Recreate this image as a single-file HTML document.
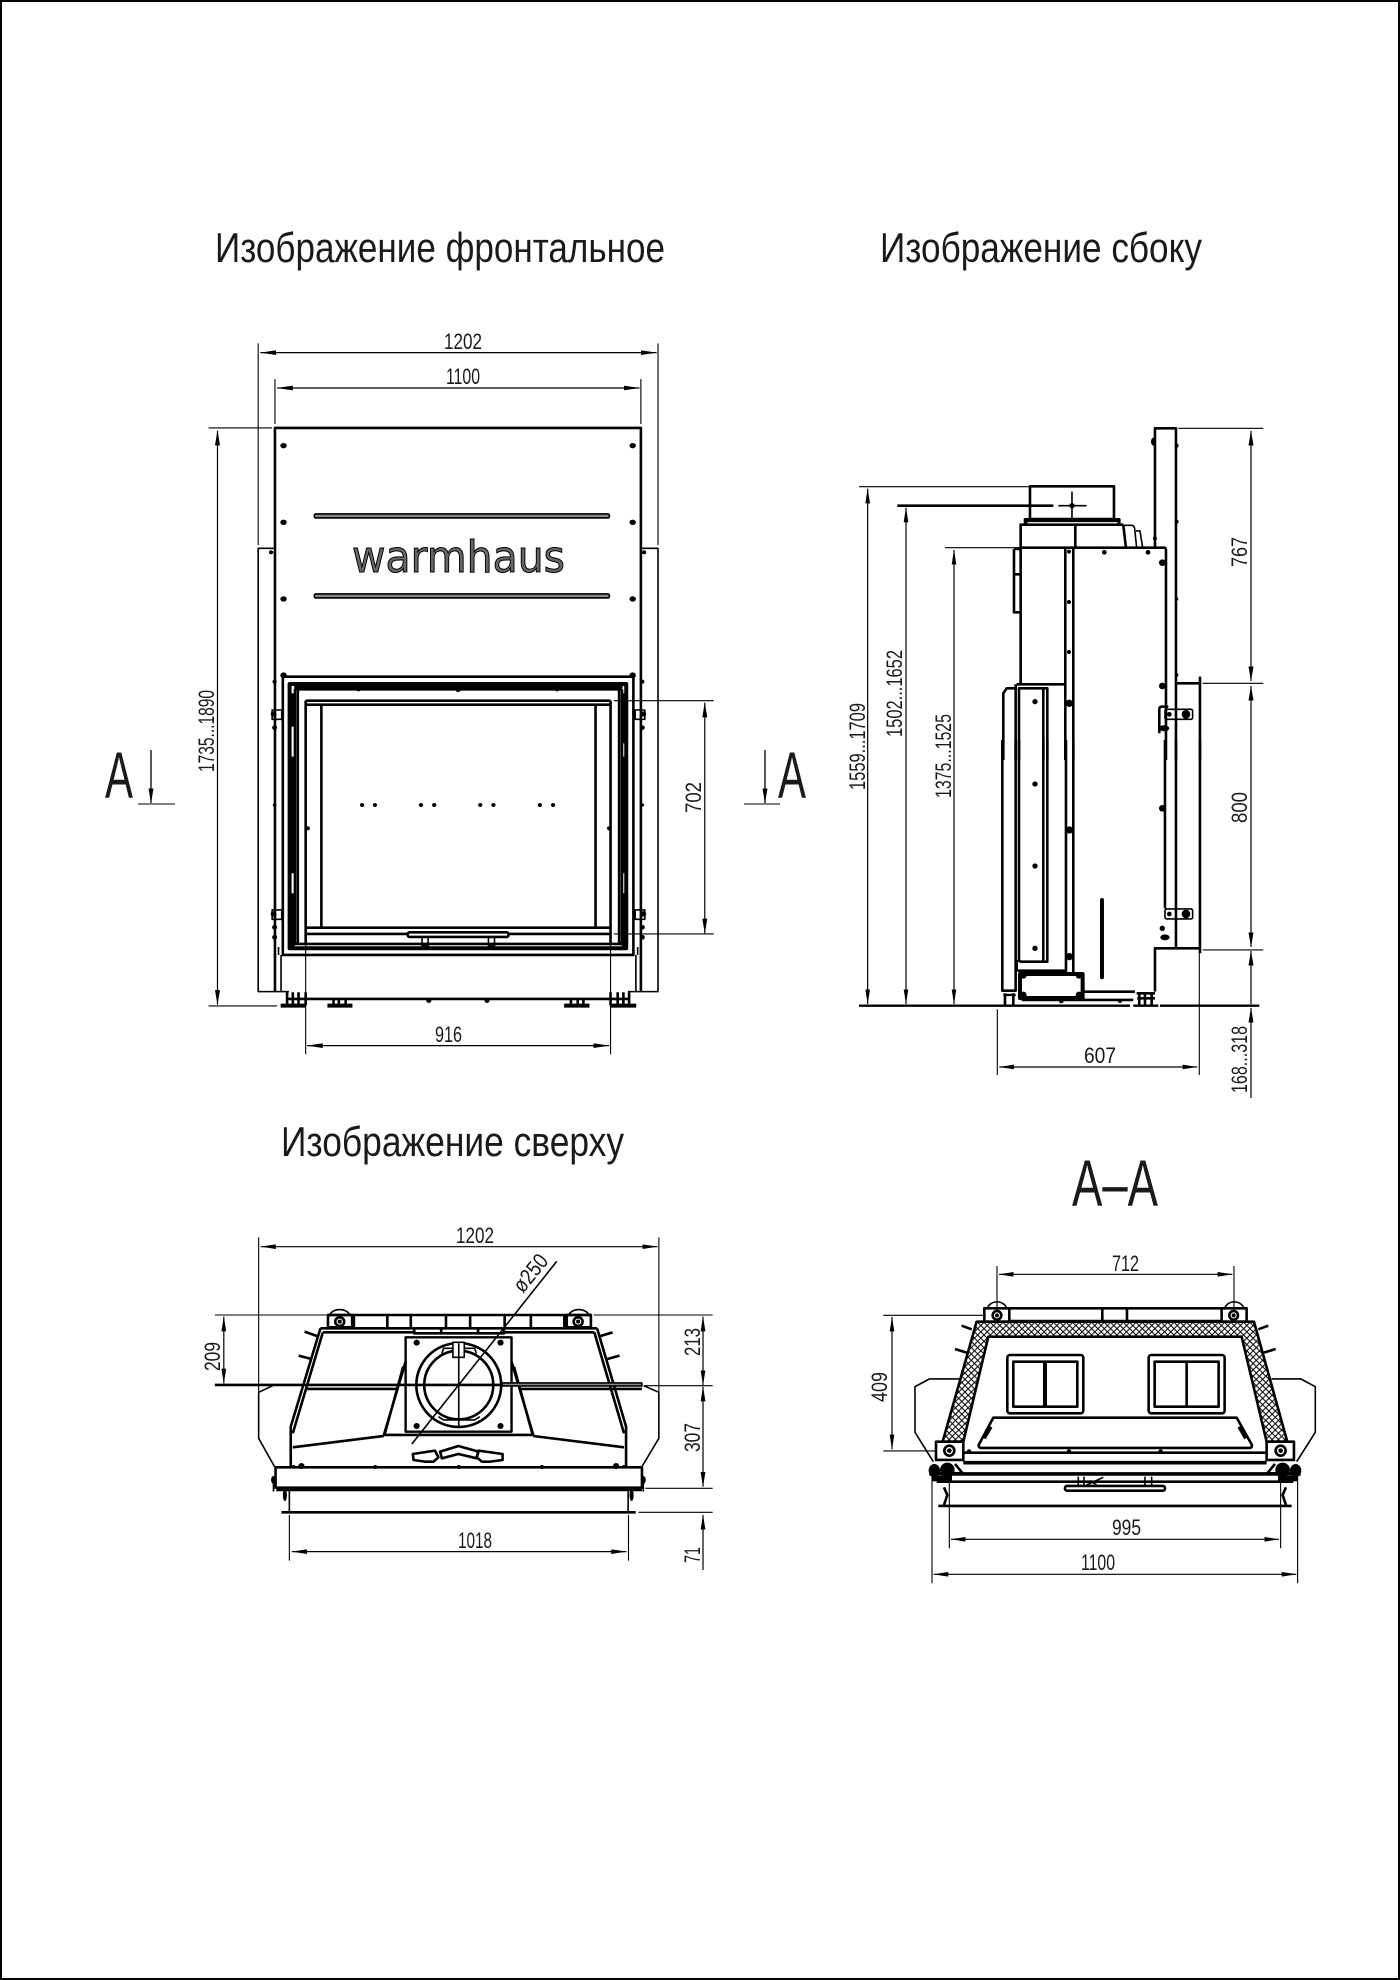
<!DOCTYPE html>
<html><head><meta charset="utf-8"><style>
html,body{margin:0;padding:0;background:#fff}
svg{display:block}
g.v *{vector-effect:non-scaling-stroke}
g.v{fill:none;stroke:#000;stroke-width:1.6;stroke-linejoin:round}
.t{stroke-width:2.6}.u{stroke-width:4}.n{stroke-width:1.1}
.d{stroke-width:1.2;marker-start:url(#a);marker-end:url(#a)}
.f{fill:#000;stroke:none}
text{font-family:"Liberation Sans","DejaVu Sans",sans-serif;fill:#1a1a1a;stroke:none}
.s{font-size:22px}.h{font-size:42px}
</style></head><body>
<svg width="1400" height="1980" viewBox="0 0 1400 1980" xmlns="http://www.w3.org/2000/svg">
<defs>
<marker id="a" markerUnits="userSpaceOnUse" viewBox="0 0 45 14" markerWidth="45" markerHeight="14" refX="44" refY="7" orient="auto-start-reverse"><path d="M0 0L45 7L0 14z" fill="#000"/></marker>
<marker id="b" markerUnits="userSpaceOnUse" viewBox="0 0 15 5" markerWidth="15" markerHeight="5" refX="14.6" refY="2.5" orient="auto-start-reverse"><path d="M0 0L15 2.5L0 5z" fill="#000"/></marker>
<pattern id="h" patternUnits="userSpaceOnUse" width="19" height="19"><path d="M0 0L19 19M19 0L0 19" stroke="#000" stroke-width="3" fill="none"/></pattern>
</defs>
<rect x="1" y="1" width="1398" height="1978" fill="none" stroke="#000" stroke-width="2"/>

<!-- FRONT upper -->
<g class="v" transform="translate(180,300) scale(.357,.3333)">
<path class="n" d="M219 130V735M1339 130V735M266 237V372M1291 237V372M80 384H258"/>
<path class="d" d="M225 158H1335"/><path class="d" d="M272 264H1287"/>
<path class="t" d="M266 1080V384H1291V1080"/>
<path d="M219 1080V745H262M1295 745H1339V1080"/>
<rect x="376" y="642" width="827" height="12" rx="5" fill="#888"/><rect x="376" y="882" width="827" height="12" rx="5" fill="#888"/>
<g class="f"><ellipse cx="290" cy="437" rx="9" ry="8"/><ellipse cx="1268" cy="437" rx="9" ry="8"/><ellipse cx="290" cy="667" rx="9" ry="8"/><ellipse cx="1268" cy="667" rx="9" ry="8"/><ellipse cx="290" cy="897" rx="9" ry="8"/><ellipse cx="1268" cy="897" rx="9" ry="8"/><circle cx="255" cy="757" r="6"/><circle cx="1300" cy="757" r="6"/></g>
</g>
<text x="352" y="572" font-size="44" textLength="213" lengthAdjust="spacingAndGlyphs" style="font-family:'DejaVu Sans','Liberation Sans',sans-serif;fill:#666;stroke:#000;stroke-width:1">warmhaus</text>

<!-- FRONT lower -->
<g class="v" transform="translate(180,660) scale(.357,.3333)">
<path class="t" d="M266 0V995M1291 0V995"/>
<path d="M219 0V995H305M1255 995H1339V0M283 885V995M1277 885V995M276 861V885M1282 861V885"/>
<path class="t" d="M352 1017H1206"/>
<rect class="t" x="288" y="50" width="982" height="835"/>
<rect class="u" x="307" y="72" width="943" height="793"/>
<path class="t" d="M320 88H1238M322 88V850M1238 88V850M330 92V850M1230 92V850"/>
<path class="u" d="M316 290V640M1243 290V640M316 100V200M1243 100V250M316 700V860M1243 700V860M320 80H1240"/>
<path class="n" d="M352 122V1183M1206 122V1183"/>
<path class="t" d="M352 122H1206M352 134H1206M352 122V852M1206 122V852M396 134V803M1164 134V803M352 803H1206M352 822H640M920 822H1206M320 852H1240"/>
<rect class="t" x="638" y="817" width="282" height="14" rx="5"/>
<path d="M678 831H695V858H678zM864 831H881V858H864z"/>
<rect x="258" y="150" width="27" height="28"/><rect x="1275" y="150" width="27" height="28"/><rect x="258" y="750" width="27" height="28"/><rect x="1275" y="750" width="27" height="28"/>
<g class="f">
<circle cx="290" cy="46" r="9"/><circle cx="1268" cy="46" r="9"/>
<circle cx="510" cy="435" r="6"/><circle cx="546" cy="435" r="6"/><circle cx="675" cy="435" r="6"/><circle cx="712" cy="435" r="6"/><circle cx="841" cy="435" r="6"/><circle cx="878" cy="435" r="6"/><circle cx="1008" cy="435" r="6"/><circle cx="1045" cy="435" r="6"/>
<circle cx="265" cy="65" r="6"/><circle cx="1295" cy="65" r="6"/><circle cx="262" cy="162" r="8"/><circle cx="1298" cy="162" r="8"/><circle cx="265" cy="203" r="7"/><circle cx="1295" cy="203" r="7"/><circle cx="265" cy="435" r="5"/><circle cx="1295" cy="435" r="5"/><circle cx="262" cy="762" r="8"/><circle cx="1298" cy="762" r="8"/><circle cx="265" cy="802" r="7"/><circle cx="1295" cy="802" r="7"/><circle cx="265" cy="832" r="7"/><circle cx="1295" cy="832" r="7"/>
<circle cx="358" cy="505" r="6"/><circle cx="1202" cy="505" r="6"/><circle cx="697" cy="1022" r="7"/><circle cx="860" cy="1022" r="7"/>
<circle cx="500" cy="88" r="6"/><circle cx="779" cy="88" r="8"/><circle cx="1056" cy="88" r="6"/>
</g>
<path class="t" d="M300 997V1036M316 997V1036M332 997V1036M352 997V1036M300 1017H352M1206 997V1036M1226 997V1036M1242 997V1036M1258 997V1036M1206 1017H1258M430 1020V1036M445 1020V1036M464 1020V1036M1095 1020V1036M1114 1020V1036M1130 1020V1036"/>
<path class="u" d="M282 1037H352M1206 1037H1278M413 1037H483M1076 1037H1147"/>
<path class="n" d="M80 1038H272M1215 122H1495M1215 822H1495"/>
<path class="d" d="M105 -688V1034"/><path class="d" d="M1470 128V820"/><path class="d" d="M356 1157H1202"/>
</g>

<!-- SIDE upper -->
<g class="v" transform="translate(840,400) scale(.3333)">
<path class="t" d="M945 443V85H1008V1080"/>
<path class="n" d="M1015 85H1270M1088 850H1270M57 260H570M315 443H540"/>
<path class="t" d="M172 317H640"/><path d="M655 317H740M696 275V357"/>
<rect class="t" x="570" y="259" width="252" height="98"/>
<path class="t" d="M555 372V358H838V372M542 853V374H850"/>
<path d="M560 372V364H835V372M850 376H875Q882 376 884 385L890 443M888 393H900L908 443"/>
<path class="t" d="M850 376L858 443M706 374V443M540 443H975Q978 445 978 452V1080"/>
<path class="t" d="M676 443V1080M700 443V1080M522 447H542M522 447V637H542M522 523H542"/>
<path class="t" d="M530 853H676M527 1080V853M537 1080V865H622V1080M610 865V1080M490 1080V880L500 865H527M1080 830V1080M1008 850H1080"/>
<path class="t" d="M985 920H965Q958 920 958 930V1000"/>
<rect x="975" y="928" width="83" height="30" rx="5"/>
<path class="d" d="M83 266V1812"/>
<path class="d" d="M198 323V1812"/>
<path class="d" d="M342 450V1812"/>
<g class="f">
<circle cx="696" cy="317" r="8"/><circle cx="687" cy="455" r="6"/><circle cx="793" cy="457" r="7"/><circle cx="924" cy="457" r="7"/><circle cx="687" cy="606" r="6"/><circle cx="687" cy="756" r="6"/><circle cx="688" cy="910" r="11"/><circle cx="967" cy="488" r="10"/><circle cx="967" cy="858" r="10"/><ellipse cx="940" cy="125" rx="7" ry="12"/><circle cx="1010" cy="137" r="6"/><circle cx="1010" cy="365" r="6"/><circle cx="945" cy="415" r="6"/><circle cx="1010" cy="597" r="5"/><circle cx="1010" cy="825" r="5"/>
<circle cx="585" cy="905" r="8"/><circle cx="988" cy="943" r="7"/><circle cx="1038" cy="943" r="13"/><ellipse cx="972" cy="985" rx="16" ry="9"/>
</g>
</g>

<!-- SIDE lower -->
<g class="v" transform="translate(840,740) scale(.3333)">
<path class="t" d="M487 0V752H527V0M537 0V660Q537 665 545 665H622V0M610 0V665M532 692H678M530 660V692M678 0V700M700 0V700M975 0V505M1008 0V625M945 755V625H1080M1080 0V640"/>
<rect class="u" x="540" y="702" width="188" height="72"/>
<path class="t" d="M728 755H885M545 780H880M495 760V795M520 760V795M890 760H945M898 760V795M915 760V795M935 760V795M892 775H945"/>
<path class="n" d="M1088 630H1270M472 808V1005M1078 640V1005"/>
<path class="u" d="M57 797H870M960 797H1258M472 797H545M880 797H955M490 765H527" style="stroke-width:2.4"/>
<path d="M786 480V712" style="stroke-width:4;stroke-linecap:round"/>
<rect x="975" y="507" width="83" height="30" rx="5"/>
<path class="d" d="M478 981H1072"/>
<g class="f">
<circle cx="585" cy="132" r="8"/><circle cx="585" cy="378" r="8"/><circle cx="585" cy="625" r="8"/><circle cx="688" cy="270" r="11"/><circle cx="688" cy="650" r="11"/><circle cx="967" cy="205" r="10"/><circle cx="967" cy="565" r="8"/><ellipse cx="975" cy="592" rx="14" ry="9"/><circle cx="988" cy="522" r="7"/><circle cx="1038" cy="522" r="13"/>
<circle cx="550" cy="706" r="10"/><circle cx="717" cy="706" r="10"/><circle cx="550" cy="765" r="10"/><circle cx="717" cy="765" r="10"/><circle cx="664" cy="783" r="7"/><circle cx="840" cy="783" r="6"/>
</g>
</g>

<!-- SIDE right dims -->
<g class="v">
<path style="stroke-width:1.2;marker-start:url(#b);marker-end:url(#b)" d="M1251 431V681"/>
<path style="stroke-width:1.2;marker-start:url(#b);marker-end:url(#b)" d="M1251 686V947"/>
<path style="stroke-width:1.2;marker-start:url(#b)" d="M1251 951V1004"/>
<path style="stroke-width:1.2;marker-start:url(#b)" d="M1251 1008V1098"/>
</g>

<!-- TOP view -->
<g class="v" transform="translate(190,1220) scale(.345,.3333)">
<path class="n" d="M199 52V515M1359 52V515M72 285H400M1170 285H1515M1320 497H1515M1320 805H1515M1300 877H1515"/>
<path class="d" d="M205 80H1355"/><path class="d" d="M98 290V490"/><path class="d" d="M1487 290V495"/><path class="d" d="M1487 500V800"/><path class="d" d="M295 995H1265"/>
<path style="stroke-width:1.2;marker-start:url(#a)" d="M1487 885V1050"/>
<path class="n" d="M288 885V1022M1271 885V1022"/>
<path class="t" d="M400 285H1165M475 288V322M572 288V322M640 288V322M742 288V322M812 288V322M912 288V322M988 288V322M1085 288V322"/>
<rect class="t" x="400" y="285" width="70" height="37"/><rect class="t" x="1092" y="285" width="70" height="37"/>
<path d="M405 285A30 22 0 0 1 463 285M1098 285A30 22 0 0 1 1156 285"/>
<circle class="t" cx="434" cy="305" r="13"/><circle class="t" cx="1125" cy="305" r="13"/>
<path class="t" d="M378 325H1180M385 337H650M910 337H1172M650 322V340H910V322M728 322V340M835 322V340M378 325L292 620V740M385 337L298 640M1180 325L1264 620V740M1172 337L1258 640"/>
<path class="u" d="M625 352H932V635H625z" style="stroke-width:2.4"/>
<ellipse class="t" cx="779" cy="495" rx="123" ry="126"/><ellipse class="t" cx="779" cy="495" rx="100" ry="103"/>
<path d="M730 400L735 385H762M795 385H825L830 400M720 590L735 600H825L840 590"/>
<rect x="762" y="367" width="33" height="45" fill="#fff"/>
<path d="M779 370V620M643 672L1063 124"/>
<path class="t" d="M625 425L562 645H995L932 425M618 440L565 640M939 440L992 640M562 648L298 682M995 648L1258 682M332 335L368 348M315 407L352 417M1225 337L1190 348M1245 407L1210 417"/>
<path d="M240 497L199 517V655L245 740M1315 497L1359 517V655L1310 740"/>
<path class="t" d="M72 495H905M340 507H600M955 507H1310"/>
<rect x="905" y="489" width="405" height="9" fill="#888"/>
<rect class="t" x="248" y="742" width="1062" height="61"/>
<path class="t" d="M646 702L710 692L720 712L706 725H681L648 720Z"/>
<path class="t" d="M725 695L778 678L836 695L831 715L778 702L730 715Z"/>
<path class="t" d="M836 692L906 702V720L870 725H846L831 712Z"/>
<path class="t" d="M250 810H1310M265 877H1292"/><path d="M288 810V875M1270 810V875M242 770V815M1314 770V815"/>
<g class="f"><circle cx="657" cy="368" r="9"/><circle cx="900" cy="368" r="9"/><circle cx="657" cy="618" r="9"/><circle cx="900" cy="618" r="9"/><circle cx="434" cy="305" r="6"/><circle cx="1125" cy="305" r="6"/><circle cx="323" cy="738" r="9"/><circle cx="1235" cy="738" r="9"/><circle cx="537" cy="741" r="6"/><circle cx="779" cy="741" r="6"/><circle cx="1020" cy="741" r="6"/><circle cx="300" cy="740" r="5"/><circle cx="1258" cy="740" r="5"/><ellipse cx="242" cy="780" rx="7" ry="12"/><ellipse cx="1314" cy="780" rx="7" ry="12"/><ellipse cx="275" cy="825" rx="6" ry="18"/><ellipse cx="1280" cy="825" rx="6" ry="18"/></g>
</g>

<!-- A-A -->
<g class="v" transform="translate(870,1240) scale(.3333)">
<path class="n" d="M381 78V210M1092 78V210M40 226H345M40 633H198M238 722V925M1232 722V925M186 680V1030M1283 680V1030"/>
<path class="d" d="M387 103H1087"/><path class="d" d="M243 898H1227"/><path class="d" d="M191 1003H1279"/><path class="d" d="M66 231V628"/>
<path class="t" d="M418 205H1055M418 243H1055M697 208V243M771 208V243"/>
<rect class="t" x="343" y="205" width="75" height="40"/><rect class="t" x="1055" y="205" width="75" height="40"/>
<path d="M352 205A30 26 0 0 1 410 205M1064 205A30 26 0 0 1 1122 205"/>
<path class="t" d="M320 245H1152L1252 605H1190L1115 290H355L280 605H218Z" fill="url(#h)"/>
<circle class="t" cx="381" cy="226" r="13"/><circle class="t" cx="1091" cy="226" r="13"/>
<rect class="t" x="412" y="345" width="228" height="175" rx="8"/><rect class="t" x="430" y="365" width="192" height="135"/><path class="u" d="M525 365V500"/>
<rect class="t" x="836" y="345" width="228" height="175" rx="8"/><rect class="t" x="854" y="365" width="192" height="135"/><path class="t" d="M950 365V500"/>
<path class="t" d="M370 533H1100L1146 615Q1146 624 1138 624H334Q326 624 326 615Z"/>
<path class="u" d="M362 560L342 595M1108 560L1128 595"/>
<path class="t" d="M275 257L305 268M255 327L290 338M1195 257L1165 268M1217 327L1182 338"/>
<path d="M270 417H178L135 440V577L190 665M1205 417H1293L1336 440V577L1280 665"/>
<rect class="t" x="198" y="605" width="82" height="55" fill="#fff"/><rect class="t" x="1190" y="605" width="82" height="55" fill="#fff"/>
<circle class="t" cx="238" cy="632" r="15"/><circle class="t" cx="1232" cy="632" r="15"/>
<path class="t" d="M280 638H1190M200 725H1270M205 798H1265"/>
<path d="M280 668H1190M178 702H1292" style="stroke-width:3.6"/>
<rect x="585" y="738" width="300" height="14" rx="6" class="t"/>
<path d="M625 710V738M642 710V738M825 710V738M845 710V738M650 735L700 712M660 722L680 735"/>
<path class="t" d="M222 742L232 765L222 795M1248 742L1238 765L1248 795"/>
<path d="M255 672L278 700H245M1215 672L1192 700H1225" class="t"/>
<g class="f"><circle cx="381" cy="226" r="6"/><circle cx="1091" cy="226" r="6"/><circle cx="238" cy="632" r="7"/><circle cx="1232" cy="632" r="7"/><circle cx="297" cy="635" r="7"/><circle cx="597" cy="635" r="7"/><circle cx="872" cy="635" r="7"/>
<ellipse cx="193" cy="692" rx="17" ry="20"/><circle cx="232" cy="690" r="22"/><rect x="186" y="708" width="60" height="16"/><ellipse cx="1277" cy="692" rx="17" ry="20"/><circle cx="1238" cy="690" r="22"/><rect x="1224" y="708" width="60" height="16"/></g>
</g>

<!-- section marks -->
<g class="v">
<path class="n" d="M138 804H175M744 804H780"/>
<path style="stroke-width:1.3;marker-end:url(#b)" d="M151 750V803"/>
<path style="stroke-width:1.3;marker-end:url(#b)" d="M765 750V803"/>
</g>

<!-- titles -->
<text class="h" x="215" y="262" textLength="450" lengthAdjust="spacingAndGlyphs">Изображение фронтальное</text>
<text class="h" x="880" y="262" textLength="322" lengthAdjust="spacingAndGlyphs">Изображение сбоку</text>
<text class="h" x="281" y="1156" textLength="343" lengthAdjust="spacingAndGlyphs">Изображение сверху</text>
<text x="1072" y="1206" font-size="66" textLength="86" lengthAdjust="spacingAndGlyphs">А–А</text>
<text x="105" y="798" font-size="66" textLength="28" lengthAdjust="spacingAndGlyphs">А</text>
<text x="778" y="798" font-size="66" textLength="28" lengthAdjust="spacingAndGlyphs">А</text>

<!-- dimension labels -->
<text class="s" x="444" y="349" textLength="38" lengthAdjust="spacingAndGlyphs">1202</text>
<text class="s" x="446" y="384" textLength="34" lengthAdjust="spacingAndGlyphs">1100</text>
<text class="s" x="435" y="1042" textLength="27" lengthAdjust="spacingAndGlyphs">916</text>
<text class="s" x="1084" y="1063" textLength="32" lengthAdjust="spacingAndGlyphs">607</text>
<text class="s" x="456" y="1243" textLength="38" lengthAdjust="spacingAndGlyphs">1202</text>
<text class="s" x="458" y="1548" textLength="34" lengthAdjust="spacingAndGlyphs">1018</text>
<text class="s" x="1112" y="1271" textLength="27" lengthAdjust="spacingAndGlyphs">712</text>
<text class="s" x="1112" y="1535" textLength="29" lengthAdjust="spacingAndGlyphs">995</text>
<text class="s" x="1081" y="1570" textLength="34" lengthAdjust="spacingAndGlyphs">1100</text>
<text class="s" transform="translate(214,772) rotate(-90)" textLength="82" lengthAdjust="spacingAndGlyphs">1735...1890</text>
<text class="s" transform="translate(701,813) rotate(-90)" textLength="31" lengthAdjust="spacingAndGlyphs">702</text>
<text class="s" transform="translate(865,790) rotate(-90)" textLength="87" lengthAdjust="spacingAndGlyphs">1559...1709</text>
<text class="s" transform="translate(902,737) rotate(-90)" textLength="87" lengthAdjust="spacingAndGlyphs">1502...1652</text>
<text class="s" transform="translate(951,798) rotate(-90)" textLength="84" lengthAdjust="spacingAndGlyphs">1375...1525</text>
<text class="s" transform="translate(1247,567) rotate(-90)" textLength="30" lengthAdjust="spacingAndGlyphs">767</text>
<text class="s" transform="translate(1247,823) rotate(-90)" textLength="31" lengthAdjust="spacingAndGlyphs">800</text>
<text class="s" transform="translate(1247,1093) rotate(-90)" textLength="67" lengthAdjust="spacingAndGlyphs">168...318</text>
<text class="s" transform="translate(220,1371) rotate(-90)" textLength="29" lengthAdjust="spacingAndGlyphs">209</text>
<text class="s" transform="translate(700,1356) rotate(-90)" textLength="28" lengthAdjust="spacingAndGlyphs">213</text>
<text class="s" transform="translate(700,1452) rotate(-90)" textLength="29" lengthAdjust="spacingAndGlyphs">307</text>
<text class="s" transform="translate(700,1563) rotate(-90)" textLength="16" lengthAdjust="spacingAndGlyphs">71</text>
<text class="s" transform="translate(887,1402) rotate(-90)" textLength="30" lengthAdjust="spacingAndGlyphs">409</text>
<text class="s" transform="translate(523,1294) rotate(-51)" textLength="42" lengthAdjust="spacingAndGlyphs">ø250</text>
</svg>
</body></html>
